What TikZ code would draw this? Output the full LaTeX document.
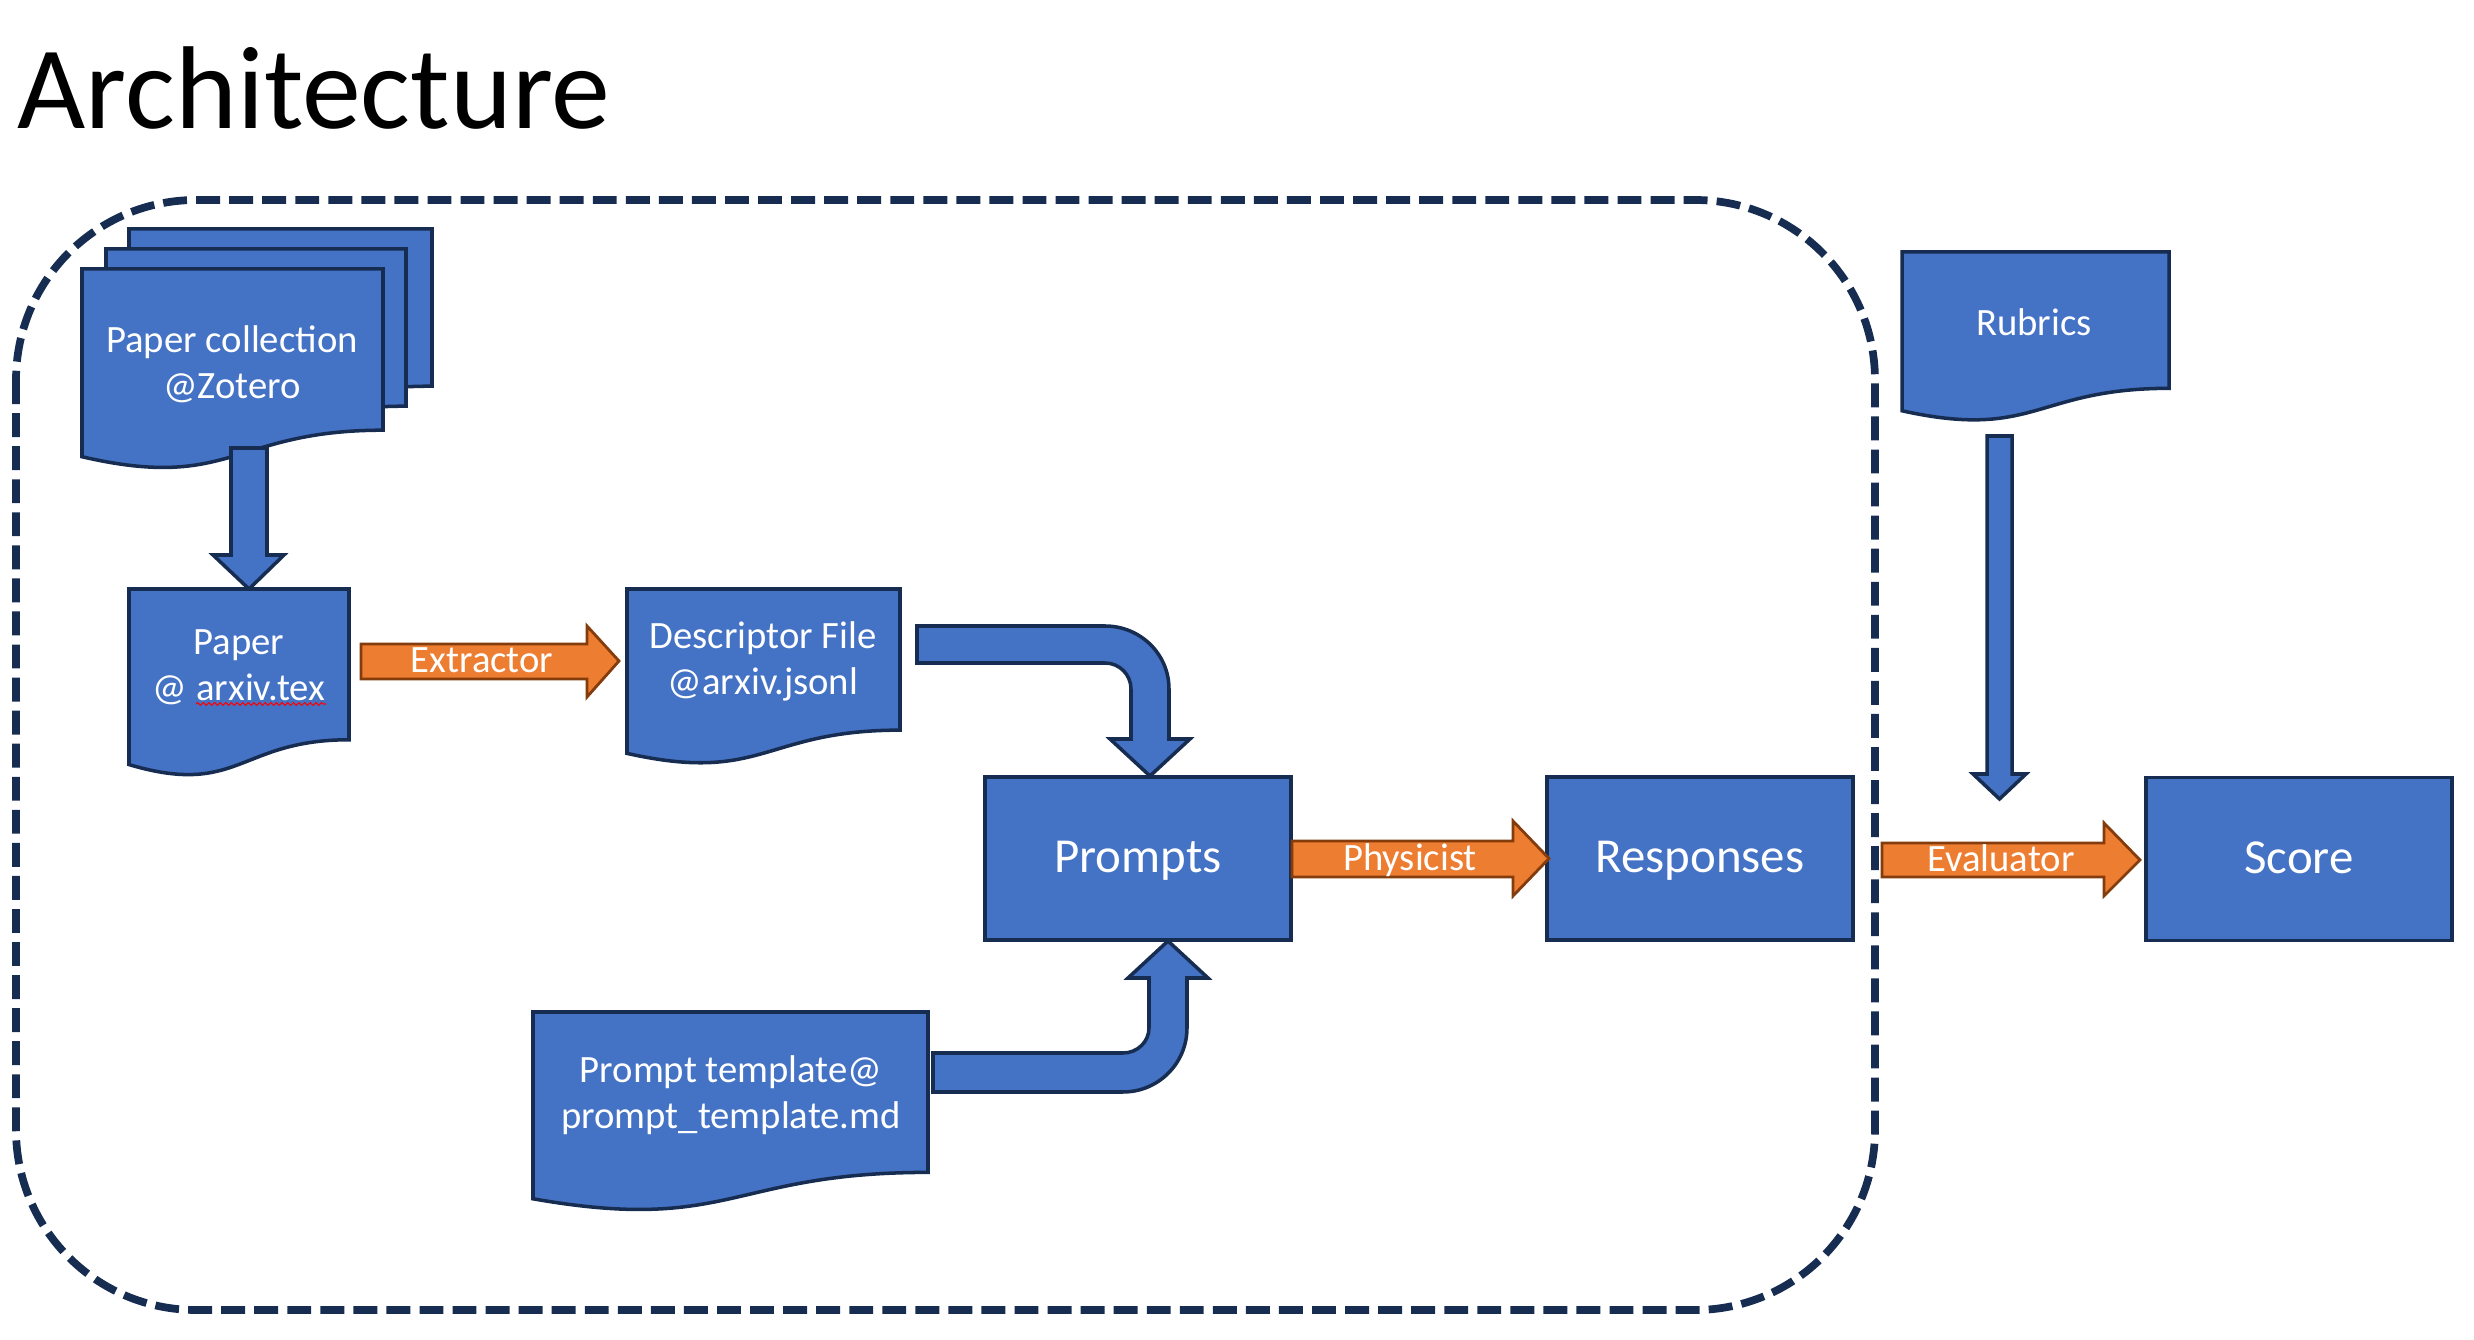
\documentclass[tikz,border=0pt]{standalone}
\usepackage{fontspec}
\setmainfont{Carlito}
\usetikzlibrary{decorations.pathmorphing}
\definecolor{boxblue}{HTML}{4472C4}
\definecolor{navy}{HTML}{172C51}
\definecolor{arrorange}{HTML}{ED7D31}
\definecolor{arrbrown}{HTML}{843C0C}
\tikzset{
  blueshape/.style={fill=boxblue, draw=navy, line width=1pt, line join=miter},
  orangearrow/.style={fill=arrorange, draw=arrbrown, line width=0.8pt, line join=miter},
  procbox/.style={blueshape, minimum width=3.06cm, minimum height=1.63cm, inner sep=0pt, text=white, font=\fontsize{13.9}{16.7}\selectfont, text height=0.95em, text depth=0.14em},
  doctext/.style={text=white, align=center, font=\fontsize{11}{13.1}\selectfont, inner sep=0pt},
  arrowlabel/.style={text=white, font=\fontsize{11}{13.1}\selectfont, inner sep=0pt, text height=0.844em, text depth=0.2em},
  groupline/.style={draw=navy, line width=2.2pt, dash pattern=on 6.8pt off 2.6pt, rounded corners=1.8cm},
  spellline/.style={draw=red, line width=0.3pt, decorate, decoration={snake, amplitude=0.4pt, segment length=1.6pt}},
}
% #1 x1, #2 y1, #3 x2, #4 h, #5 name
\newcommand\docshape[5]{%
  \pgfmathsetmacro\dsXm{(#1+#3)/2}%
  \pgfmathsetmacro\dsYa{#2+0.802*#4}%
  \pgfmathsetmacro\dsYb{#2+1.1075*#4}%
  \pgfmathsetmacro\dsYc{#2+0.934*#4}%
  \draw[blueshape] (#1,#2) -- (#3,#2) -- (#3,\dsYa) .. controls (\dsXm,\dsYa) and (\dsXm,\dsYb) .. (#1,\dsYc) -- cycle;
  \coordinate (#5) at (\dsXm,#2);
}
\begin{document}
\begin{tikzpicture}[x=0.01cm, y=-0.01cm]
\useasboundingbox (0,0) rectangle (2474,1340);

% title
\node[anchor=base west, inner sep=0pt, font=\fontsize{33.5}{40}\selectfont] (title) at (17,129) {Architecture};

% dashed group
\draw[groupline] (16,200) rectangle (1875,1310);

% paper collection stack
\docshape{129}{229}{432}{196}{collback}
\docshape{106}{249}{406}{196}{collmid}
\docshape{82}{269}{383}{201}{collfront}
\node[doctext] (colltext) at (232,364) {Paper collection\\@Zotero};

% down arrow collection -> paper
\draw[blueshape] (231,448) -- (267,448) -- (267,555) -- (284,555) -- (249,589) -- (213,555) -- (231,555) -- cycle;

% paper doc
\docshape{129}{589}{349}{188}{paperdoc}
\node[doctext] (papertext) at (239,667) {Paper\\@ arxiv.tex};
\draw[spellline] (196,704) -- (326,704);

% extractor arrow
\draw[orangearrow] (361,644) -- (587,644) -- (587,626) -- (619,661) -- (587,697) -- (587,679) -- (361,679) -- cycle;
\node[arrowlabel] (extractor) at (482,661) {Extractor};

% descriptor doc
\docshape{627}{589}{900}{176}{descdoc}
\node[doctext] (desctext) at (763,661) {Descriptor File\\@arxiv.jsonl};

% bent arrow descriptor -> prompts
\draw[blueshape] (917,626) -- (1105,626) .. controls (1140.3,626) and (1169,654) .. (1169,689)
  -- (1169,739) -- (1190,739) -- (1150,776) -- (1110,739) -- (1131,739) -- (1131,689)
  .. controls (1131,674.6) and (1119.4,663) .. (1105,663) -- (917,663) -- cycle;

% prompts / responses / score
\node[procbox] (prompts) at (1138,858.5) {Prompts};
\node[procbox] (responses) at (1700,858.5) {Responses};
\node[procbox] (score) at (2299,859) {Score};

% physicist arrow
\draw[orangearrow] (1292,841) -- (1513,841) -- (1513,821) -- (1549,858.5) -- (1513,896) -- (1513,877) -- (1292,877) -- cycle;
\node[arrowlabel] (physicist) at (1410,859) {Physicist};

% prompt template doc
\docshape{533}{1012}{928}{200}{tpldoc}
\node[doctext] (tpltext) at (731,1095) {Prompt template@\\prompt\_template.md};

% bent arrow template -> prompts
\draw[blueshape] (933,1053) -- (1123,1053) .. controls (1137.4,1053) and (1149,1041.8) .. (1149,1028)
  -- (1149,978) -- (1128,978) -- (1168,941) -- (1208,978) -- (1187,978) -- (1187,1028)
  .. controls (1187,1063.3) and (1158.3,1092) .. (1123,1092) -- (933,1092) -- cycle;

% rubrics
\docshape{1902}{252}{2169}{170}{rubricsdoc}
\node[doctext] (rubricstext) at (2034,322) {Rubrics};
\draw[blueshape] (1987,436) -- (2012,436) -- (2012,774) -- (2026,774) -- (1999.5,799) -- (1973,774) -- (1987,774) -- cycle;

% evaluator arrow
\draw[orangearrow] (1882,843) -- (2104,843) -- (2104,823) -- (2140,860) -- (2104,896) -- (2104,877) -- (1882,877) -- cycle;
\node[arrowlabel] (evaluator) at (2001,860) {Evaluator};
\end{tikzpicture}
\end{document}
